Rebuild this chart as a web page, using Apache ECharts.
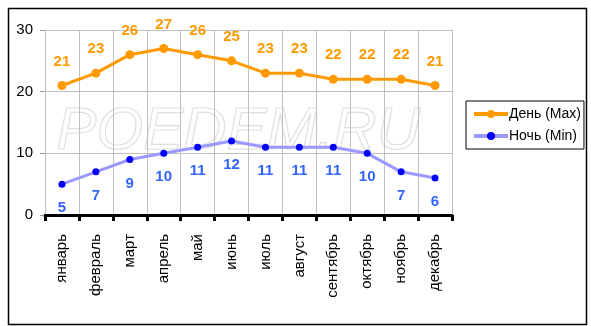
<!DOCTYPE html>
<html><head><meta charset="utf-8">
<script src="https://cdn.jsdelivr.net/npm/echarts@6/dist/echarts.min.js"></script>
<style>html,body{margin:0;padding:0;background:#fff}#c{width:591px;height:326px}</style>
</head><body><div id="c"></div>
<script>
const months = ['январь','февраль','март','апрель','май','июнь','июль','август','сентябрь','октябрь','ноябрь','декабрь'];
const dayMax = [21,23,26,27,26,25,23,23,22,22,22,21];
const nightMin = [5,7,9,10,11,12,11,11,11,10,7,6];
const yTicks = [0,10,20,30];
const F = '"Liberation Sans", Arial, sans-serif';
const chart = echarts.init(document.getElementById('c'));
chart.setOption({
  animation:false,
  backgroundColor:'#fff',
  graphic:[
    {type:'rect', left:6, top:6, shape:{width:578,height:316}, style:{fill:'none', stroke:'#000', lineWidth:1.5}, z:-10},
    {type:'text', left:56, top:102, style:{text:'POEDEM.RU', font:'italic 60px "Liberation Sans", Arial, sans-serif', fill:'rgba(255,255,255,0)', stroke:'#e0e0e0', lineWidth:1.2}, z:-5}
  ],
  grid:{left:45, right:139, top:30, bottom:111},
  legend:{
    orient:'vertical', left:466, top:101, width:114,
    padding:[6,3,6,6], itemGap:8,
    borderColor:'#000', borderWidth:1,
    itemWidth:34, itemHeight:10,
    lineStyle:{width:4},
    textStyle:{fontFamily:F, fontSize:14, color:'#000', padding:[0,0,0,-4]},
    data:['День (Max)','Ночь (Min)']
  },
  xAxis:{
    type:'category', data:months, boundaryGap:true,
    axisLine:{lineStyle:{color:'#000', width:3}},
    axisTick:{show:true, length:6, lineStyle:{color:'#000', width:3}},
    splitLine:{show:true, lineStyle:{color:'#c0c0c0', width:1}},
    axisLabel:{rotate:90, fontFamily:F, fontSize:15, color:'#000', margin:19, interval:0}
  },
  yAxis:{
    type:'value', min:0, max:30, interval:10,
    axisLine:{show:false},
    axisTick:{show:true, length:5, lineStyle:{color:'#999'}},
    splitLine:{lineStyle:{color:'#c0c0c0', width:1}},
    axisLabel:{fontFamily:F, fontSize:15, color:'#000', margin:12,
      formatter:v=>yTicks.includes(v)?String(v):''}
  },
  series:[
    {name:'День (Max)', type:'line', data:dayMax, symbol:'circle', symbolSize:9,
     lineStyle:{color:'#ff9900', width:3}, itemStyle:{color:'#ff9900'},
     label:{show:true, position:'top', distance:12, fontFamily:F, fontSize:15, fontWeight:'bold', color:'#ff9900'}},
    {name:'Ночь (Min)', type:'line', data:nightMin, symbol:'circle', symbolSize:7,
     lineStyle:{color:'#9999ff', width:3}, itemStyle:{color:'#0000ff'},
     label:{show:true, position:'bottom', distance:13, fontFamily:F, fontSize:15, fontWeight:'bold', color:'#3366ff'}}
  ]
});
</script></body></html>
